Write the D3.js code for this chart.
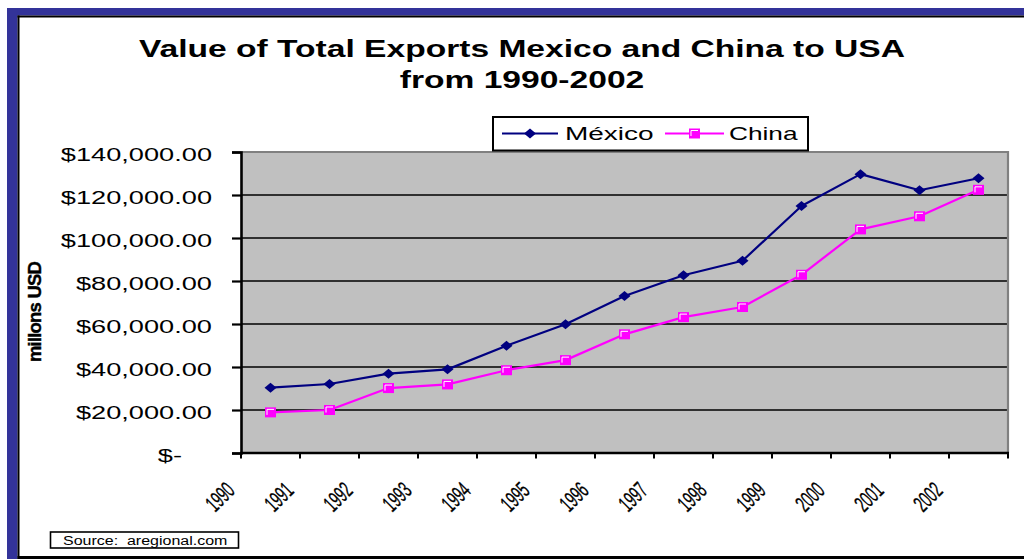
<!DOCTYPE html>
<html>
<head>
<meta charset="utf-8">
<script src="https://cdn.jsdelivr.net/npm/d3@7"></script>
<style>
  html, body { margin: 0; padding: 0; background: #fff; }
  svg { display: block; font-family: "Liberation Sans", Arial, sans-serif; }
</style>
</head>
<body>
<svg id="chart" width="1024" height="559"></svg>
<script>
// Export values to the USA, millions of USD
const years = ["1990","1991","1992","1993","1994","1995","1996","1997","1998","1999","2000","2001","2002"];
const mexico = [30400, 32100, 36900, 38900, 49900, 59900, 73000, 82700, 89400, 114900, 129700, 122200, 127800];
const china  = [18900, 20000, 30200, 31900, 38500, 43200, 55200, 63200, 67900, 82900, 104000, 110100, 122400];
const yTicks = [0, 20000, 40000, 60000, 80000, 100000, 120000, 140000];
const seriesNames = ["México", "China"];
const titleLines = ["Value of Total Exports Mexico and China to USA", "from 1990-2002"];
const yTitle = "millons USD";
const sourceText = "Source:  aregional.com";

const svg = d3.select("#chart");
const plot = { left: 241, right: 1008, top: 152, bottom: 453 };

// Text drawn with a horizontal stretch: position (px, py), stretch factor k
function wideText(parent, px, py, k) {
  return parent.append("text")
    .attr("transform", `translate(${px},${py}) scale(${k},1)`)
    .attr("x", 0).attr("y", 0);
}

// Outer frame: blue band along top and left, thin black inner rule
svg.append("rect").attr("x", 7).attr("y", 8).attr("width", 1017).attr("height", 7.5).attr("fill", "#333399");
svg.append("rect").attr("x", 7).attr("y", 8).attr("width", 10.5).attr("height", 551).attr("fill", "#333399");
svg.append("rect").attr("x", 17.5).attr("y", 15.5).attr("width", 1006.5).attr("height", 2).attr("fill", "#000");
svg.append("rect").attr("x", 17.5).attr("y", 15.5).attr("width", 2).attr("height", 543.5).attr("fill", "#000");
svg.append("rect").attr("x", 17.5).attr("y", 556).attr("width", 1006.5).attr("height", 3).attr("fill", "#000");

// Title
const title = svg.append("g");
titleLines.forEach((t, i) => {
  wideText(title, 522, i === 0 ? 57 : 88, 1.46)
    .attr("text-anchor", "middle")
    .attr("font-size", 23).attr("font-weight", "bold").attr("fill", "#000")
    .text(t);
});

// Scales
const x = d3.scaleBand().domain(years).range([plot.left, plot.right]).padding(0);
const y = d3.scaleLinear().domain([0, 140000]).range([plot.bottom, plot.top]);
const cx = d => x(d) + x.bandwidth() / 2;

// Plot area
svg.append("rect")
  .attr("x", plot.left).attr("y", plot.top)
  .attr("width", plot.right - plot.left).attr("height", plot.bottom - plot.top)
  .attr("fill", "#c0c0c0");

// Horizontal gridlines
svg.append("g").selectAll("line")
  .data(yTicks.filter(v => v > 0 && v < 140000))
  .join("line")
  .attr("x1", plot.left).attr("x2", plot.right)
  .attr("y1", d => y(d)).attr("y2", d => y(d))
  .attr("stroke", "#000").attr("stroke-width", 1.5);

// Plot border (top and right)
svg.append("path")
  .attr("d", `M${plot.left},${plot.top}H${plot.right}V${plot.bottom}`)
  .attr("fill", "none").attr("stroke", "#808080").attr("stroke-width", 2.2);

// Y axis
const fmt = v => v === 0 ? "$-" : "$" + d3.format(",.2f")(v);
const yAxis = svg.append("g")
  .attr("transform", `translate(${plot.left},0)`)
  .call(d3.axisLeft(y).tickValues(yTicks).tickSize(9).tickPadding(0).tickFormat(fmt));
yAxis.select(".domain").attr("stroke", "#000").attr("stroke-width", 2.6);
yAxis.selectAll(".tick line").attr("stroke", "#000").attr("stroke-width", 2.2);
yAxis.selectAll(".tick text").remove();
yAxis.selectAll(".tick").each(function (d) {
  wideText(d3.select(this), d === 0 ? -59 : -29, 0, 1.47)
    .attr("dy", "0.45em")
    .attr("text-anchor", "end")
    .attr("font-size", 18.5).attr("fill", "#000")
    .attr("font-family", "'Liberation Sans', Arial, sans-serif")
    .text(fmt(d));
});

// X axis: ticks on band edges, labels at each band's left edge
const edges = years.map(d => x(d)).concat([plot.right]);
const xAxis = svg.append("g");
xAxis.append("line")
  .attr("x1", plot.left - 1).attr("x2", plot.right + 1)
  .attr("y1", plot.bottom).attr("y2", plot.bottom)
  .attr("stroke", "#000").attr("stroke-width", 2.6);
xAxis.selectAll("line.tick")
  .data(edges)
  .join("line").attr("class", "tick")
  .attr("x1", d => d).attr("x2", d => d)
  .attr("y1", plot.bottom).attr("y2", plot.bottom + 5.5)
  .attr("stroke", "#000").attr("stroke-width", 2);
xAxis.selectAll("text")
  .data(years)
  .join("text")
  .attr("transform", d => `translate(${x(d) - 5},492) rotate(-45) scale(0.58,1)`)
  .attr("text-anchor", "end")
  .attr("font-size", 23).attr("fill", "#000")
  .attr("stroke", "#000").attr("stroke-width", 0.3)
  .text(d => d);

// Y axis title
svg.append("text")
  .attr("transform", "translate(41,312) rotate(-90)")
  .attr("text-anchor", "middle")
  .attr("font-size", 18.5).attr("font-weight", "bold").attr("fill", "#000")
  .attr("letter-spacing", -0.8)
  .attr("stroke", "#000").attr("stroke-width", 0.4)
  .text(yTitle);

// Series lines
const colors = ["#000080", "#ff00ff"];
const data = [mexico, china];
const line = d3.line().x((v, i) => cx(years[i])).y(v => y(v));
data.forEach((vals, s) => {
  svg.append("path")
    .datum(vals)
    .attr("d", line)
    .attr("fill", "none").attr("stroke", colors[s]).attr("stroke-width", 2.2)
    .attr("stroke-linejoin", "round");
});

// Markers
function diamond(g, px, py) {
  g.append("path")
    .attr("d", `M${px - 6},${py}L${px},${py - 5}L${px + 6},${py}L${px},${py + 5}Z`)
    .attr("fill", "#000080");
}
function square(g, px, py) {
  g.append("rect")
    .attr("x", px - 5.5).attr("y", py - 5).attr("width", 11).attr("height", 10)
    .attr("fill", "#ff00ff");
  g.append("path")
    .attr("d", `M${px - 3.5},${py + 2.5}V${py - 3}H${px + 3.5}`)
    .attr("fill", "none").attr("stroke", "#fff").attr("stroke-width", 1);
}
const markers = svg.append("g");
mexico.forEach((v, i) => diamond(markers, cx(years[i]), y(v)));
china.forEach((v, i) => square(markers, cx(years[i]), y(v)));

// Legend
const legend = svg.append("g");
legend.append("rect")
  .attr("x", 493).attr("y", 117).attr("width", 315).attr("height", 33.5)
  .attr("fill", "#fff").attr("stroke", "#000").attr("stroke-width", 2);
const legendItems = [
  { x0: 502, x1: 558, text: 565, draw: diamond, k: 1.6 },
  { x0: 665, x1: 724, text: 729, draw: square, k: 1.5 }
];
legendItems.forEach((it, i) => {
  const ly = 133.5;
  legend.append("line")
    .attr("x1", it.x0).attr("x2", it.x1).attr("y1", ly).attr("y2", ly)
    .attr("stroke", colors[i]).attr("stroke-width", 2.2);
  it.draw(legend, (it.x0 + it.x1) / 2, ly);
  wideText(legend, it.text, 139.5, it.k)
    .attr("font-size", 17.5).attr("fill", "#000")
    .text(seriesNames[i]);
});

// Source note
svg.append("rect")
  .attr("x", 50.5).attr("y", 532).attr("width", 188).attr("height", 16)
  .attr("fill", "#fff").attr("stroke", "#000").attr("stroke-width", 1.6);
wideText(svg, 63, 545, 1.28)
  .attr("font-size", 12.5).attr("fill", "#000")
  .style("white-space", "pre")
  .text(sourceText);
</script>
</body>
</html>
